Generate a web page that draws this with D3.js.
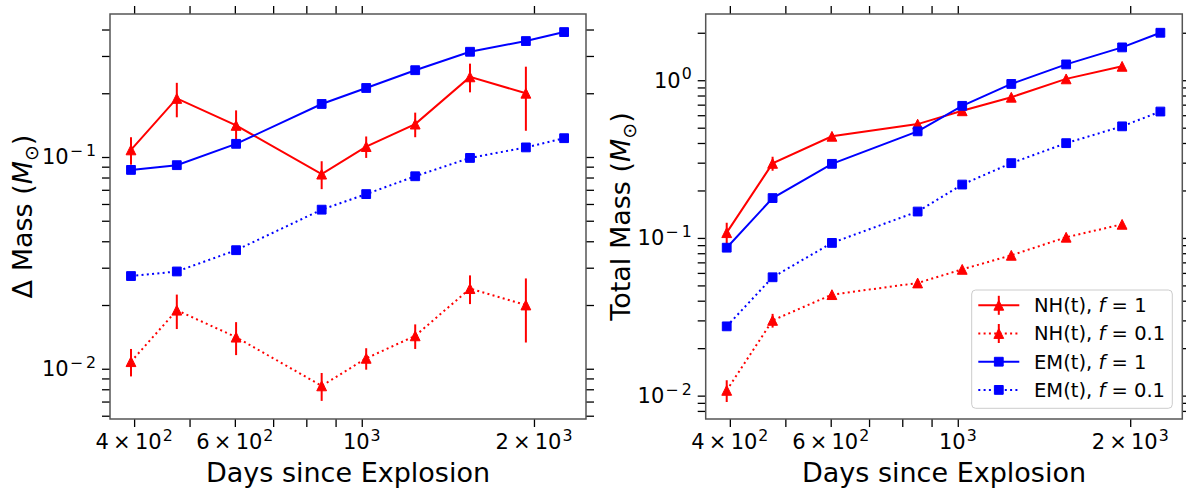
<!DOCTYPE html>
<html><head><meta charset="utf-8">
<script src="https://cdn.jsdelivr.net/npm/d3@7"></script>
<style>
body{margin:0;background:#fff}
svg{display:block}
text{font-family:"DejaVu Sans",sans-serif;fill:#000}
</style>
</head><body>
<svg id="c" width="1186" height="491"></svg>
<script>
// ---------------- data ----------------
const days = [395, 475, 603, 851, 1018, 1240, 1546, 1936, 2258];
// Left panel: Delta mass
const nhDelta     = [0.108, 0.189, 0.141, 0.083, 0.112, 0.143, 0.239, 0.200];
const nhDeltaErr  = [0.016, 0.035, 0.025, 0.0125, 0.013, 0.019, 0.037, 0.067];
const nhDelta01   = [0.0108, 0.0189, 0.0141, 0.0083, 0.0112, 0.0143, 0.0239, 0.0200];
const nhDelta01Err= [0.0016, 0.0035, 0.0025, 0.00125, 0.0013, 0.0019, 0.0037, 0.0067];
const emDelta     = [0.0869, 0.0915, 0.1154, 0.178, 0.2118, 0.257, 0.314, 0.3528, 0.389];
const emDelta01   = [0.0274, 0.0288, 0.0363, 0.0564, 0.0668, 0.0811, 0.099, 0.111, 0.1227];
// Right panel: total mass
const nhTotal     = [0.108, 0.297, 0.441, 0.527, 0.640, 0.780, 1.02, 1.225];
const nhTotalErr  = [0.017, 0.030, 0.020, 0.020, 0.020, 0.020, 0.020, 0.020];
const nhTotal01   = [0.0108, 0.0300, 0.0437, 0.0518, 0.0632, 0.0776, 0.101, 0.122];
const nhTotal01Err= [0.0017, 0.0030, 0.0020, 0.0020, 0.0020, 0.0020, 0.0020, 0.0020];
const emTotal     = [0.0867, 0.179, 0.295, 0.474, 0.688, 0.947, 1.26, 1.615, 2.00];
const emTotal01   = [0.0275, 0.0563, 0.093, 0.147, 0.218, 0.298, 0.399, 0.510, 0.633];

const xLimits = [363, 2466];
const yLimitsLeft = [0.00579, 0.4735];
const yLimitsRight = [0.00711, 2.63];
const xTickLabels = {400: ["4\u2009\u00d7\u200910", "2"], 600: ["6\u2009\u00d7\u200910", "2"], 1000: ["10", "3"], 2000: ["2\u2009\u00d7\u200910", "3"]};
const yLabelLeft = ["\u0394 Mass (", "M", "\u2299", ")"];
const yLabelRight = ["Total Mass (", "M", "\u2299", ")"];
const xLabel = "Days since Explosion";
const legendLabels = [["NH(t), ", "f", " = 1"], ["NH(t), ", "f", " = 0.1"], ["EM(t), ", "f", " = 1"], ["EM(t), ", "f", " = 0.1"]];

// ---------------- drawing ----------------
const svg = d3.select("#c");
const RED = "#ff0000", BLUE = "#0000ff";
const DOT = "2,3.3";
const TICKFS = 21, LABFS = 27;

function supText(g, x, y, base, sup, anchor) {
  const t = g.append("text").attr("x", x).attr("y", y)
    .attr("text-anchor", anchor).style("font-size", TICKFS + "px");
  t.append("tspan").text(base);
  t.append("tspan").attr("dx", 1).attr("dy", -0.4 * TICKFS).style("font-size", (TICKFS * 0.75) + "px").text(sup);
  return t;
}

function triPath(s) {
  const h = s / 2;
  return `M0,${-h}L${-h},${h}L${h},${h}Z`;
}
function sqPath(s) {
  const h = s / 2;
  return `M${-h},${-h}H${h}V${h}H${-h}Z`;
}

function drawPanel(p) {
  const g = svg.append("g");
  const x = d3.scaleLog().domain(xLimits).range([p.x0, p.x1]);
  const y = d3.scaleLog().domain(p.yDomain).range([p.y1, p.y0]);

  // ticks
  const xt = x.ticks().filter(v => v >= xLimits[0] && v <= xLimits[1]);
  const yt = y.ticks().filter(v => v >= p.yDomain[0] && v <= p.yDomain[1]);
  const mk = (axis) => axis.tickSize(8).tickSizeOuter(0).tickFormat("");
  const axes = [
    [d3.axisBottom(x).tickValues(xt), `translate(0,${p.y1})`],
    [d3.axisTop(x).tickValues(xt), `translate(0,${p.y0})`],
    [d3.axisLeft(y).tickValues(yt), `translate(${p.x0},0)`],
    [d3.axisRight(y).tickValues(yt), `translate(${p.x1},0)`]
  ];
  axes.forEach(([a, tr]) => {
    const ag = g.append("g").attr("transform", tr).call(mk(a));
    ag.select(".domain").remove();
    ag.selectAll("line").attr("stroke", "#000").attr("stroke-width", 1.3);
  });

  // tick labels
  xt.forEach(v => {
    if (xTickLabels[v]) supText(g, x(v), 449, xTickLabels[v][0], xTickLabels[v][1], "middle");
  });
  yt.forEach(v => {
    const e = Math.log10(v);
    if (Math.abs(e - Math.round(e)) < 1e-9) {
      const r = Math.round(e);
      supText(g, p.x0 - 14, y(v) + 7.5, "10", r < 0 ? "\u2212\u2009" + (-r) : String(r), "end");
    }
  });

  // series
  const clipId = "clip" + p.id;
  svg.append("clipPath").attr("id", clipId).append("rect")
    .attr("x", p.x0).attr("y", p.y0).attr("width", p.x1 - p.x0).attr("height", p.y1 - p.y0);
  const sg = g.append("g").attr("clip-path", `url(#${clipId})`);
  p.series.forEach(s => {
    const data = s.vals.map((v, i) => ({t: days[i], v, e: s.err ? s.err[i] : 0}));
    const line = d3.line().x(d => x(d.t)).y(d => y(d.v));
    sg.append("path").datum(data).attr("d", line).attr("fill", "none")
      .attr("stroke", s.color).attr("stroke-width", 2)
      .attr("stroke-dasharray", s.dotted ? DOT : null);
    if (s.err) {
      sg.selectAll(null).data(data).enter().append("line")
        .attr("x1", d => x(d.t)).attr("x2", d => x(d.t))
        .attr("y1", d => y(d.v - d.e)).attr("y2", d => y(d.v + d.e))
        .attr("stroke", s.color).attr("stroke-width", 2);
    }
    sg.selectAll(null).data(data).enter().append("path")
      .attr("transform", d => `translate(${x(d.t)},${y(d.v)})`)
      .attr("d", s.marker === "tri" ? triPath(9.8) : sqPath(8.8))
      .attr("fill", s.color).attr("stroke", s.color).attr("stroke-width", 1);
  });

  // frame
  g.append("rect").attr("x", p.x0).attr("y", p.y0)
    .attr("width", p.x1 - p.x0).attr("height", p.y1 - p.y0)
    .attr("fill", "none").attr("stroke", "#555").attr("stroke-width", 1.5);

  // axis labels
  g.append("text").attr("x", (p.x0 + p.x1) / 2).attr("y", 482)
    .attr("text-anchor", "middle").style("font-size", LABFS + "px").text(xLabel);
  const yl = g.append("text")
    .attr("transform", `translate(${p.ylabX},${(p.y0 + p.y1) / 2}) rotate(-90)`)
    .attr("text-anchor", "middle").style("font-size", LABFS + "px");
  yl.append("tspan").text(p.ylab[0]);
  yl.append("tspan").style("font-style", "italic").text(p.ylab[1]);
  yl.append("tspan").attr("dy", 0.22 * LABFS).style("font-size", (LABFS * 0.7) + "px").text(p.ylab[2]);
  yl.append("tspan").attr("dy", -0.22 * LABFS).text(p.ylab[3]);
  return {x, y, g};
}

drawPanel({
  id: 0, x0: 110, x1: 586, y0: 14, y1: 419, yDomain: yLimitsLeft, ylab: yLabelLeft, ylabX: 32,
  series: [
    {vals: nhDelta, err: nhDeltaErr, color: RED, marker: "tri"},
    {vals: nhDelta01, err: nhDelta01Err, color: RED, marker: "tri", dotted: true},
    {vals: emDelta, color: BLUE, marker: "sq"},
    {vals: emDelta01, color: BLUE, marker: "sq", dotted: true}
  ]
});
drawPanel({
  id: 1, x0: 705.7, x1: 1182.3, y0: 14, y1: 419, yDomain: yLimitsRight, ylab: yLabelRight, ylabX: 630,
  series: [
    {vals: nhTotal, err: nhTotalErr, color: RED, marker: "tri"},
    {vals: nhTotal01, err: nhTotal01Err, color: RED, marker: "tri", dotted: true},
    {vals: emTotal, color: BLUE, marker: "sq"},
    {vals: emTotal01, color: BLUE, marker: "sq", dotted: true}
  ]
});

// legend
const lg = svg.append("g");
lg.append("rect").attr("x", 971.7).attr("y", 290).attr("width", 200.6).attr("height", 118.3)
  .attr("rx", 4).attr("fill", "#fff").attr("fill-opacity", 0.8)
  .attr("stroke", "#cccccc").attr("stroke-width", 1);
const legStyles = [
  {color: RED, marker: "tri", err: true},
  {color: RED, marker: "tri", err: true, dotted: true},
  {color: BLUE, marker: "sq"},
  {color: BLUE, marker: "sq", dotted: true}
];
legendLabels.forEach((lab, i) => {
  const cy = 305.3 + i * 28.2, st = legStyles[i];
  lg.append("line").attr("x1", 978.3).attr("x2", 1019.3).attr("y1", cy).attr("y2", cy)
    .attr("stroke", st.color).attr("stroke-width", 2).attr("stroke-dasharray", st.dotted ? DOT : null);
  if (st.err) lg.append("line").attr("x1", 998.8).attr("x2", 998.8).attr("y1", cy - 9.5).attr("y2", cy + 9.5)
    .attr("stroke", st.color).attr("stroke-width", 2);
  lg.append("path").attr("transform", `translate(998.8,${cy})`)
    .attr("d", st.marker === "tri" ? triPath(9.8) : sqPath(8.8))
    .attr("fill", st.color).attr("stroke", st.color).attr("stroke-width", 1);
  const t = lg.append("text").attr("x", 1034).attr("y", cy + 6.8).style("font-size", "19.5px");
  t.append("tspan").text(lab[0]);
  t.append("tspan").style("font-style", "italic").text(lab[1]);
  t.append("tspan").text(lab[2]);
});
</script>
</body></html>
